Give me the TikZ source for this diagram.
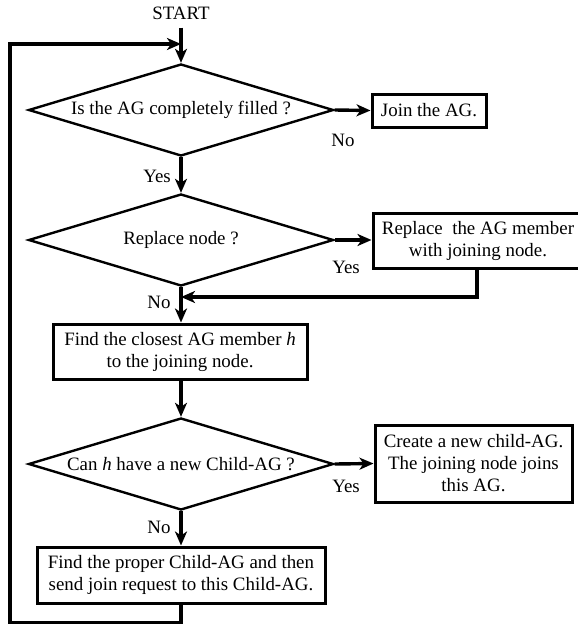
\documentclass[tikz,border=0pt]{standalone}
\usepackage{fontspec}
\setmainfont{Liberation Serif}
\usetikzlibrary{shapes.geometric,arrows.meta}
\begin{document}
\begin{tikzpicture}[x=1pt,y=-1pt,
  font=\fontsize{18.9}{22}\selectfont,
  decision/.style={diamond,draw,line width=2.4pt,inner sep=0pt,aspect=3.3,
    minimum width=305pt,minimum height=92pt},
  stepbox/.style={rectangle,draw,line width=3pt,align=center,inner sep=0pt},
  arr/.style={line width=3.4pt,-{Stealth[length=14pt,width=12pt,inset=4pt]}},
  lbl/.style={inner sep=0pt}]
\useasboundingbox (0,0) rectangle (578,624);
\clip (0,0) rectangle (578,624);

% main column
\node[inner sep=0pt] (start) at (181,13) {START};
\coordinate (loopin) at (181,44);
\node[decision] (d1) at (181,110) {Is the AG completely filled ?};
\node[decision] (d2) at (181,240) {Replace node ?};
\node[stepbox,minimum width=254pt,minimum height=55pt] (b3) at (180,351.5)
  {Find the closest AG member \textit{h}\\to the joining node.};
\node[decision] (d3) at (181,464) {Can \textit{h} have a new Child-AG ?};
\node[stepbox,minimum width=288pt,minimum height=56pt] (b5) at (181,575)
  {Find the proper Child-AG and then\\send join request to this Child-AG.};

% side boxes
\node[stepbox,minimum width=114pt,minimum height=33pt] (join) at (429,110.5) {Join the AG.};
\node[stepbox,minimum width=210pt,minimum height=55pt] (repl) at (478,240.5)
  {Replace\ \ the AG member\\with joining node.};
\node[stepbox,minimum width=197pt,minimum height=77pt] (create) at (473.5,463.5)
  {Create a new child-AG.\\The joining node joins\\this AG.};

\coordinate (merge) at (181,297);

% connectors
\draw[arr] (start.south) ++(0,8) -- (d1.north);
\draw[arr] (d1.south) -- (d2.north);
\draw[arr] (d2.south) -- (b3.north -| d2.south);
\draw[arr] (b3.south -| d3.north) -- (d3.north);
\draw[arr] (d3.south) -- (b5.north -| d3.south);
\draw[arr] (d1.east) -- (join.west);
\draw[arr] (d2.east) -- (d2.east -| repl.west);
\draw[arr] (d3.east) -- (create.west);
\draw[arr] (repl.south -| 477,0) |- (merge);
\draw[arr] (b5.south) -- ++(0,18) -| (10,44) -- (loopin);

% branch labels
\node[lbl] (n1) at (343,140) {No};
\node[lbl] (y1) at (157,176) {Yes};
\node[lbl] (y2) at (346,267) {Yes};
\node[lbl] (n2) at (159,302) {No};
\node[lbl] (y3) at (346,486) {Yes};
\node[lbl] (n3) at (159,527) {No};
\end{tikzpicture}
\end{document}
